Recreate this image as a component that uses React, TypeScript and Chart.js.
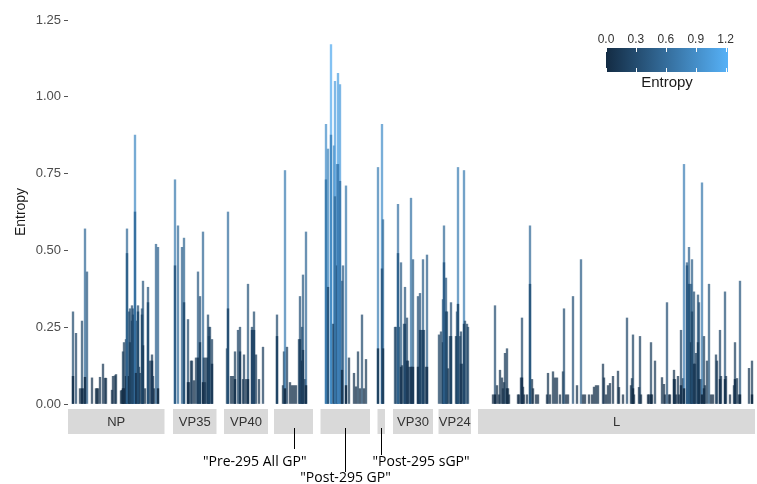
import { useEffect, useRef } from 'react';
import { Chart, registerables } from 'chart.js';

Chart.register(...registerables);

// Gene segments along the concatenated site axis
const geneNames = ['NP', 'VP35', 'VP40', '', '', '', 'VP30', 'VP24', 'L'];
const geneStart = [0, 105, 156, 206, 252.5, 309.5, 325, 370.5, 410];
const geneEnd = [96.5, 148.5, 200, 245, 302, 317, 365, 403, 687];

// Callout labels for the GP segments
const calloutLabels = ['"Pre-295 All GP"', '"Post-295 GP"', '"Post-295 sGP"'];
const calloutGene = [3, 4, 5];

const yTicks = [0, 0.25, 0.5, 0.75, 1.0, 1.25];
const colorbarTicks = [0, 0.3, 0.6, 0.9, 1.2];
const colorMax = 1.223;

// [site, entropy (tallest), entropy (overlaid lower value, 0 = none)]
const npBars = [
  [5, 0.30, 0.09], [8, 0.23, 0], [12, 0.05, 0], [14, 0.27, 0.05], [16, 0.05, 0], [17, 0.57, 0.087],
  [19, 0.43, 0], [24, 0.085, 0], [28, 0.05, 0], [29, 0.05, 0], [30, 0.05, 0], [32, 0.087, 0],
  [35, 0.13, 0], [37, 0.084, 0], [38, 0.084, 0], [44, 0.045, 0], [45, 0.09, 0], [47, 0.092, 0],
  [48, 0.096, 0], [53, 0.043, 0], [54, 0.045, 0], [55, 0.17, 0.05], [56, 0.2, 0.05], [58, 0.21, 0.09],
  [59, 0.57, 0.49], [61, 0.30, 0.09], [62, 0.31, 0.2], [64, 0.32, 0.27], [65, 0.31, 0.29],
  [67, 0.875, 0.625], [68, 0.27, 0.1], [70, 0.32, 0.3], [71, 0.12, 0], [72, 0.10, 0], [74, 0.31, 0.29],
  [75, 0.40, 0.19], [77, 0.05, 0], [80, 0.38, 0.33], [82, 0.14, 0], [84, 0.16, 0.14], [85, 0.09, 0],
  [86, 0.05, 0], [88, 0.52, 0], [90, 0.51, 0.05],
];
const vp35Bars = [
  [107, 0.73, 0.45], [110, 0.58, 0], [114, 0.51, 0], [116, 0.54, 0.33], [120, 0.275, 0.07],
  [121, 0.07, 0], [123, 0.14, 0], [124, 0.14, 0], [126, 0.076, 0], [128, 0.15, 0], [130, 0.43, 0.15],
  [132, 0.35, 0.2], [135, 0.56, 0.07], [136, 0.15, 0], [137, 0.07, 0], [138, 0.15, 0],
  [140, 0.29, 0.15], [141, 0.25, 0.22], [142, 0.25, 0], [144, 0.21, 0.13],
];
const vp40Bars = [
  [159, 0.18, 0], [160, 0.625, 0.31], [163, 0.09, 0], [165, 0.09, 0], [167, 0.17, 0.08],
  [170, 0.24, 0], [172, 0.25, 0.17], [175, 0.08, 0], [176, 0.16, 0], [178, 0.08, 0],
  [180, 0.39, 0.08], [184, 0.25, 0.24], [186, 0.30, 0.24], [188, 0.16, 0], [191, 0.08, 0], [195, 0.185, 0],
];
const preGpBars = [
  [209, 0.29, 0.22], [215, 0.06, 0], [216, 0.17, 0], [217, 0.76, 0.05], [219, 0.185, 0],
  [222, 0.07, 0], [224, 0.06, 0], [226, 0.06, 0], [228, 0.06, 0], [231, 0.21, 0],
  [232, 0.35, 0.21], [234, 0.25, 0.14], [235, 0.42, 0.175], [237, 0.08, 0], [238, 0.56, 0.06],
];
const postGpBars = [
  [258, 0.91, 0.73], [260, 0.83, 0.38], [263, 1.17, 0.875], [264, 0.26, 0], [266, 0.84, 0.26],
  [267, 1.05, 0.675], [269, 0.78, 0.45], [270, 1.076, 0.78], [272, 1.04, 0.725], [274, 0.40, 0.11],
  [275, 0.45, 0], [278, 0.71, 0.06], [281, 0.15, 0], [286, 0.10, 0], [288, 0.056, 0], [290, 0.17, 0],
  [292, 0.05, 0], [294, 0.29, 0], [296, 0.05, 0], [298, 0.145, 0],
];
const sgpBars = [
  [310, 0.77, 0.18], [314, 0.91, 0.44], [315, 0.60, 0.18],
];
const vp30Bars = [
  [327, 0.25, 0], [328, 0.25, 0], [330, 0.65, 0.49], [331, 0.25, 0], [333, 0.46, 0.12],
  [334, 0.125, 0], [336, 0.26, 0], [337, 0.38, 0.26], [339, 0.28, 0.14], [340, 0.14, 0],
  [341, 0.12, 0], [343, 0.67, 0.12], [344, 0.12, 0], [345, 0.47, 0.12], [350, 0.35, 0.12],
  [351, 0.12, 0], [352, 0.36, 0.24], [354, 0.24, 0], [355, 0.47, 0.24], [356, 0.24, 0],
  [358, 0.12, 0], [359, 0.485, 0.12],
];
const vp24Bars = [
  [371, 0.225, 0], [373, 0.235, 0], [375, 0.34, 0.2], [376, 0.58, 0.46], [378, 0.41, 0.3],
  [379, 0.30, 0], [380, 0.115, 0], [382, 0.22, 0], [383, 0.33, 0.22], [388, 0.22, 0],
  [389, 0.30, 0.22], [390, 0.77, 0.325], [392, 0.22, 0], [393, 0.235, 0.13], [395, 0.13, 0],
  [396, 0.76, 0.26], [397, 0.27, 0], [399, 0.26, 0], [400, 0.25, 0],
];
const lBars = [
  [425, 0.03, 0], [427, 0.32, 0.03], [429, 0.06, 0], [431, 0.03, 0], [432, 0.11, 0], [434, 0.085, 0],
  [435, 0.05, 0], [436, 0.07, 0], [437, 0.165, 0], [439, 0.18, 0.05], [440, 0.05, 0], [441, 0.03, 0],
  [450, 0.03, 0], [451, 0.03, 0], [453, 0.085, 0], [454, 0.28, 0.085], [455, 0.055, 0], [456, 0.03, 0],
  [459, 0.03, 0], [462, 0.58, 0.39], [464, 0.08, 0], [465, 0.05, 0], [468, 0.03, 0], [470, 0.03, 0],
  [479, 0.03, 0], [480, 0.10, 0], [482, 0.03, 0], [485, 0.105, 0], [487, 0.085, 0], [489, 0.085, 0],
  [492, 0.03, 0], [495, 0.105, 0], [496, 0.31, 0], [498, 0.03, 0], [500, 0.03, 0], [505, 0.35, 0],
  [509, 0.06, 0], [513, 0.47, 0], [515, 0.03, 0], [517, 0.03, 0], [521, 0.03, 0], [524, 0.03, 0],
  [526, 0.055, 0], [528, 0.06, 0], [530, 0.06, 0], [535, 0.13, 0], [536, 0.085, 0], [538, 0.03, 0],
  [540, 0.06, 0], [542, 0.067, 0], [545, 0.09, 0], [550, 0.107, 0], [551, 0.054, 0], [555, 0.03, 0],
  [559, 0.28, 0], [563, 0.06, 0], [564, 0.083, 0], [565, 0.225, 0.05], [566, 0.03, 0], [571, 0.054, 0],
  [572, 0.22, 0], [573, 0.03, 0], [580, 0.03, 0], [581, 0.03, 0], [583, 0.20, 0.03], [584, 0.03, 0],
  [587, 0.14, 0], [594, 0.086, 0], [596, 0.064, 0], [597, 0.03, 0], [599, 0.33, 0], [601, 0.03, 0],
  [602, 0.03, 0], [606, 0.11, 0.08], [607, 0.08, 0], [608, 0.03, 0], [610, 0.09, 0], [611, 0.03, 0],
  [613, 0.24, 0.06], [615, 0.083, 0], [616, 0.78, 0.05], [619, 0.46, 0.45], [621, 0.51, 0.39],
  [623, 0.39, 0.2], [624, 0.47, 0.3], [626, 0.365, 0.13], [627, 0.13, 0], [628, 0.165, 0],
  [630, 0.355, 0.2], [631, 0.33, 0.08], [633, 0.08, 0], [634, 0.72, 0.03], [636, 0.22, 0.05],
  [637, 0.06, 0], [639, 0.14, 0], [641, 0.39, 0], [643, 0.03, 0], [645, 0.03, 0], [648, 0.16, 0],
  [649, 0.14, 0], [652, 0.24, 0.08], [653, 0.09, 0], [657, 0.365, 0.08], [658, 0.09, 0], [662, 0.03, 0],
  [666, 0.06, 0], [667, 0.20, 0.08], [669, 0.083, 0], [671, 0.03, 0], [672, 0.40, 0.03],
  [681, 0.116, 0], [684, 0.14, 0.03],
];

const allBars = [
  ...npBars, ...vp35Bars, ...vp40Bars, ...preGpBars, ...postGpBars,
  ...sgpBars, ...vp30Bars, ...vp24Bars, ...lBars,
];

const LOW = [0x13, 0x2b, 0x43];
const HIGH = [0x56, 0xb1, 0xf7];
function entropyColor(v: number, alpha = 1): string {
  const t = Math.max(0, Math.min(1, v / colorMax));
  const c = LOW.map((l, i) => Math.round(l + (HIGH[i] - l) * t));
  return `rgba(${c[0]},${c[1]},${c[2]},${alpha})`;
}

const overlayPlugin = {
  id: 'overlay',
  afterDraw(chart: any) {
    const { ctx, chartArea, scales } = chart;
    const xs = scales.x;
    const boxTop = chartArea.bottom + 5;
    const boxH = 25;
    ctx.save();
    // gene strips
    geneNames.forEach((name, i) => {
      const x0 = xs.getPixelForValue(geneStart[i]);
      const x1 = xs.getPixelForValue(geneEnd[i]);
      ctx.fillStyle = '#d9d9d9';
      ctx.fillRect(x0, boxTop, x1 - x0, boxH);
      if (name) {
        ctx.fillStyle = '#333333';
        ctx.font = '13px "Liberation Sans", Arial, sans-serif';
        ctx.textAlign = 'center';
        ctx.textBaseline = 'middle';
        ctx.fillText(name, (x0 + x1) / 2, boxTop + boxH / 2 + 1);
      }
    });
    // callouts
    const lineEnds = [449, 472, 455];
    const textY = [462, 478, 462];
    calloutLabels.forEach((label, k) => {
      const g = calloutGene[k];
      const cx = Math.round((xs.getPixelForValue(geneStart[g]) + xs.getPixelForValue(geneEnd[g])) / 2) + 0.5;
      ctx.strokeStyle = '#000';
      ctx.lineWidth = 1;
      ctx.beginPath();
      ctx.moveTo(cx, boxTop + 19);
      ctx.lineTo(cx, lineEnds[k]);
      ctx.stroke();
      ctx.fillStyle = '#000';
      ctx.font = '14px "Open Sans", sans-serif';
      ctx.textBaseline = 'middle';
      if (k === 0) { ctx.textAlign = 'right'; ctx.fillText(label, cx + 12, textY[k]); }
      else if (k === 1) { ctx.textAlign = 'center'; ctx.fillText(label, cx, textY[k]); }
      else { ctx.textAlign = 'left'; ctx.fillText(label, cx - 9, textY[k]); }
    });
    // colour bar legend
    const bx = 606, by = 48, bw = 122, bh = 24;
    const pxPerUnit = bw / colorMax;
    const grad = ctx.createLinearGradient(bx, 0, bx + bw, 0);
    grad.addColorStop(0, entropyColor(0));
    grad.addColorStop(0.5, entropyColor(colorMax / 2));
    grad.addColorStop(1, entropyColor(colorMax));
    ctx.fillStyle = grad;
    ctx.fillRect(bx, by, bw, bh);
    ctx.strokeStyle = '#ffffff';
    ctx.lineWidth = 1;
    colorbarTicks.forEach((t) => {
      const tx = Math.round(bx + t * pxPerUnit) + 0.5;
      ctx.beginPath();
      ctx.moveTo(tx, by); ctx.lineTo(tx, by + 4);
      ctx.moveTo(tx, by + bh - 4); ctx.lineTo(tx, by + bh);
      ctx.stroke();
      ctx.fillStyle = '#333333';
      ctx.font = '12px "Liberation Sans", Arial, sans-serif';
      ctx.textAlign = 'center';
      ctx.textBaseline = 'middle';
      ctx.fillText(t.toFixed(1), bx + t * pxPerUnit, 40);
    });
    ctx.fillStyle = '#1a1a1a';
    ctx.font = '15px "Liberation Sans", Arial, sans-serif';
    ctx.textAlign = 'center';
    ctx.textBaseline = 'middle';
    ctx.fillText('Entropy', bx + bw / 2, 83);
    ctx.restore();
  },
};

export default function App() {
  const ref = useRef<HTMLCanvasElement>(null);
  useEffect(() => {
    if (!ref.current) return;
    const topData = allBars.map((b) => ({ x: b[0], y: b[1] }));
    const innerData = allBars.filter((b) => b[2] > 0).map((b) => ({ x: b[0], y: b[2] }));
    const chart = new Chart(ref.current, {
      type: 'bar',
      data: {
        datasets: [
          {
            label: 'inner',
            data: innerData,
            order: 0,
            grouped: false,
            barThickness: 1.7,
            backgroundColor: (c: any) => entropyColor(c.raw ? c.raw.y : 0, 0.95),
            borderWidth: 0,
          } as any,
          {
            label: 'Entropy',
            data: topData,
            order: 1,
            grouped: false,
            barThickness: 1.7,
            backgroundColor: (c: any) => entropyColor(c.raw ? c.raw.y : 0, 0.72),
            borderWidth: 0,
          } as any,
        ],
      },
      options: {
        animation: false,
        responsive: false,
        maintainAspectRatio: false,
        layout: { padding: { left: 0, right: 1, top: 20, bottom: 80 } },
        plugins: { legend: { display: false }, tooltip: { enabled: false } },
        scales: {
          x: { type: 'linear', min: 0, max: 688, display: false, offset: false },
          y: {
            min: 0,
            max: 1.25,
            afterBuildTicks: (s: any) => { s.ticks = yTicks.map((v) => ({ value: v })); },
            afterFit: (s: any) => { s.width = 68; },
            ticks: {
              callback: (v: any) => Number(v).toFixed(2),
              color: '#4d4d4d',
              font: { size: 13, family: '"Liberation Sans", Arial, sans-serif' },
              padding: 3,
            },
            grid: { drawOnChartArea: false, drawTicks: true, tickLength: 4, color: '#555555' },
            border: { display: false },
            title: {
              display: true,
              text: 'Entropy',
              color: '#1a1a1a',
              font: { size: 14, family: '"Liberation Sans", Arial, sans-serif' },
              padding: { top: 13, bottom: 0 },
            },
          },
        },
      },
      plugins: [overlayPlugin],
    } as any);
    return () => chart.destroy();
  }, []);
  return (
    <div style={{ position: 'fixed', left: 0, top: 0, width: 757, height: 484, background: '#fff' }}>
      <canvas ref={ref} width={757} height={484} style={{ display: 'block' }} />
    </div>
  );
}
